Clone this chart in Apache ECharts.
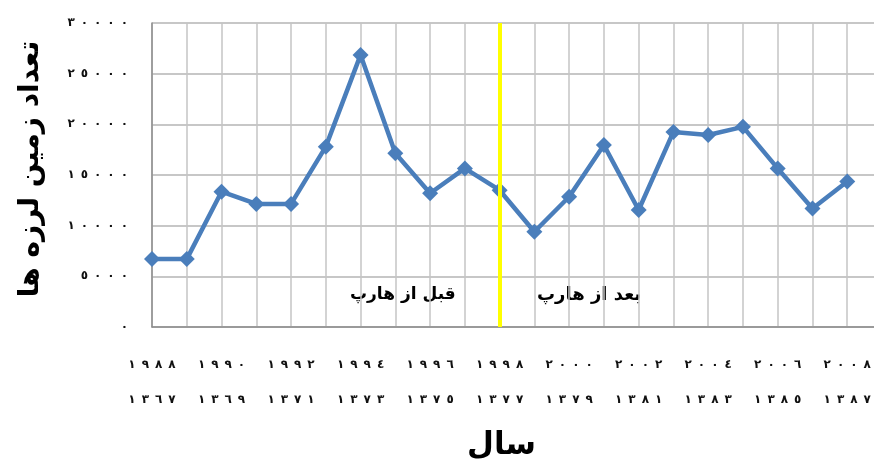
<!DOCTYPE html>
<html>
<head>
<meta charset="utf-8">
<script src="https://cdn.jsdelivr.net/npm/echarts@6/dist/echarts.min.js"></script>
<style>
  html, body {margin: 0; padding: 0; background: #fff;}
  #chart {width: 874px; height: 459px;}
</style>
</head>
<body>
<div id="chart"></div>
<script>
// years on the axis (last one has no point, the plot runs past 2008)
const years = ['1988', '1989', '1990', '1991', '1992', '1993', '1994', '1995', '1996', '1997', '1998',
  '1999', '2000', '2001', '2002', '2003', '2004', '2005', '2006', '2007', '2008', '2009'];
const gregLabels = ['١٩٨٨', '١٩٨٩', '١٩٩٠', '١٩٩١', '١٩٩٢', '١٩٩٣', '١٩٩٤', '١٩٩٥', '١٩٩٦', '١٩٩٧', '١٩٩٨',
  '١٩٩٩', '٢٠٠٠', '٢٠٠١', '٢٠٠٢', '٢٠٠٣', '٢٠٠٤', '٢٠٠٥', '٢٠٠٦', '٢٠٠٧', '٢٠٠٨', '٢٠٠٩'];
const persianLabels = ['١٣٦٧', '١٣٦٨', '١٣٦٩', '١٣٧٠', '١٣٧١', '١٣٧٢', '١٣٧٣', '١٣٧٤', '١٣٧٥', '١٣٧٦', '١٣٧٧',
  '١٣٧٨', '١٣٧٩', '١٣٨٠', '١٣٨١', '١٣٨٢', '١٣٨٣', '١٣٨٤', '١٣٨٥', '١٣٨٦', '١٣٨٧', '١٣٨٨'];
const quakes = [6700, 6700, 13350, 12150, 12150, 17800, 26850, 17150, 13200, 15650, 13500,
  9400, 12850, 17950, 11550, 19250, 18950, 19750, 15650, 11700, 14350];
const yLabels = ['٠', '٥٠٠٠', '١٠٠٠٠', '١٥٠٠٠', '٢٠٠٠٠', '٢٥٠٠٠', '٣٠٠٠٠'];
const harpYear = '1998';
const beforeText = 'قبل از هارپ';
const afterText = 'بعد از هارپ';

const font = 'DejaVu Sans';
// the original spreads its digits out wide; LRO keeps the digit order left to right
const spread = (s) => '\u202D' + s.split('').join('\u2002') + '\u202C';

const chart = echarts.init(document.getElementById('chart'));

chart.setOption({
  animation: false,
  grid: {left: 152, top: 23, right: -8, bottom: 132, outerBoundsMode: 'none', containLabel: false},
  xAxis: {
    type: 'category',
    data: years,
    boundaryGap: false,
    axisLine: {lineStyle: {color: '#8c8c8c', width: 1.5}},
    axisTick: {show: false},
    splitLine: {show: true, interval: 0, lineStyle: {color: '#c4c4c4', width: 1.5}},
    axisLabel: {
      interval: 1,
      margin: 20,
      fontFamily: font,
      fontSize: 12,
      fontWeight: 'bold',
      color: '#111',
      lineHeight: 35,
      formatter: (v, i) => spread(gregLabels[i]) + '\n' + spread(persianLabels[i])
    }
  },
  yAxis: {
    type: 'value',
    min: 0,
    max: 30000,
    interval: 5000,
    name: 'تعداد زمین لرزه ها',
    nameLocation: 'middle',
    nameGap: 107,
    nameRotate: 90,
    nameTextStyle: {fontFamily: font, fontSize: 28, fontWeight: 'bold', color: '#000', padding: [0, 0, 0, 12]},
    axisLine: {show: true, lineStyle: {color: '#8c8c8c', width: 1.5}},
    axisTick: {show: false},
    splitLine: {lineStyle: {color: '#b4b4b4', width: 1.5}},
    axisLabel: {
      margin: 24,
      fontFamily: font,
      fontSize: 12,
      fontWeight: 'bold',
      color: '#111',
      formatter: (v) => spread(yLabels[Math.round(v / 5000)])
    }
  },
  graphic: [
    {type: 'text', left: 467, top: 430,
      style: {text: 'سال', font: 'bold 31px "DejaVu Sans"', fill: '#000'}},
    {type: 'text', left: 350, top: 286,
      style: {text: beforeText, font: 'bold 17px "DejaVu Sans"', fill: '#000'}},
    {type: 'text', left: 537, top: 286,
      style: {text: afterText, font: 'bold 18px "DejaVu Sans"', fill: '#000'}}
  ],
  series: [{
    type: 'line',
    data: quakes,
    symbol: 'diamond',
    symbolSize: 16,
    itemStyle: {color: '#4a7ebb'},
    lineStyle: {color: '#4a7ebb', width: 4.5},
    markLine: {
      silent: true,
      symbol: 'none',
      label: {show: false},
      lineStyle: {color: '#ffff00', width: 4, type: 'solid'},
      data: [{xAxis: harpYear}]
    }
  }]
});
</script>
</body>
</html>
